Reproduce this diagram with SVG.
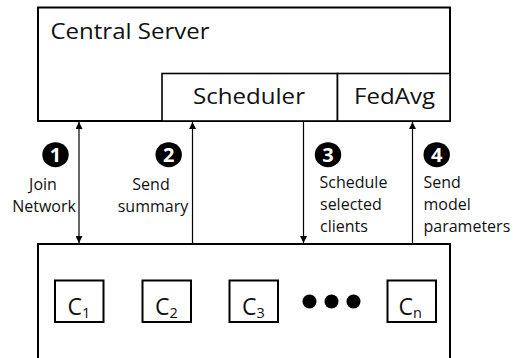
<svg xmlns="http://www.w3.org/2000/svg" width="516" height="358" viewBox="0 0 516 358">
<style>
  .box{fill:#fff;stroke:#000;stroke-width:2}
  .inner{fill:#fff;stroke:#000;stroke-width:1.6}
  .big{font-family:"Open Sans","Liberation Sans",sans-serif;font-size:22px;fill:#111}
  .lbl{font-family:"Open Sans","Liberation Sans",sans-serif;font-size:16px;fill:#111}
  .mid{text-anchor:middle}
  .cl{font-family:"Open Sans","Liberation Sans",sans-serif;font-size:23px;fill:#111}
  .sub{font-size:14.5px}
  .num{font-family:"Open Sans","DejaVu Sans",sans-serif;font-size:20px;font-weight:bold;fill:#fff;text-anchor:middle}
  .conn{stroke:#000;stroke-width:1.2;fill:none}
  .client{fill:#fff;stroke:#000;stroke-width:2}
</style>
<defs>
  <marker id="ah" viewBox="0 0 8 8" refX="8" refY="4" markerWidth="7" markerHeight="7" markerUnits="userSpaceOnUse" orient="auto-start-reverse">
    <path d="M0,0 L8,4 L0,8 Z" fill="#000"/>
  </marker>
</defs>

<g id="central-server">
  <rect class="box" x="38" y="7.5" width="412" height="113.5"/>
  <text class="big" x="50.5" y="39" textLength="159" lengthAdjust="spacingAndGlyphs">Central Server</text>
</g>
<g id="scheduler">
  <rect class="inner" x="162" y="73.5" width="175.5" height="47.5"/>
  <text class="big" x="193" y="104" textLength="112" lengthAdjust="spacingAndGlyphs">Scheduler</text>
</g>
<g id="fedavg">
  <rect class="inner" x="337.5" y="73.5" width="112.5" height="47.5"/>
  <text class="big" x="354" y="104" textLength="81" lengthAdjust="spacingAndGlyphs">FedAvg</text>
</g>

<g id="clients-pool">
  <rect class="box" x="38" y="244" width="412" height="130"/>
</g>
<g id="client-1">
  <rect class="client" x="55" y="280.5" width="48.5" height="41.5"/>
  <text class="cl" x="67.5" y="314.5">C<tspan class="sub" dy="3">1</tspan></text>
</g>
<g id="client-2">
  <rect class="client" x="142.5" y="280.5" width="48.5" height="41.5"/>
  <text class="cl" x="155" y="314.5">C<tspan class="sub" dy="3">2</tspan></text>
</g>
<g id="client-3">
  <rect class="client" x="229.5" y="280.5" width="48.5" height="41.5"/>
  <text class="cl" x="242" y="314.5">C<tspan class="sub" dy="3">3</tspan></text>
</g>
<g id="ellipsis">
  <circle cx="309.5" cy="301.5" r="7"/>
  <circle cx="331.5" cy="301.5" r="7"/>
  <circle cx="353.5" cy="301.5" r="7"/>
</g>
<g id="client-n">
  <rect class="client" x="387.5" y="280.5" width="48.5" height="41.5"/>
  <text class="cl" x="398.5" y="314.5">C<tspan class="sub" dy="3">n</tspan></text>
</g>

<g id="connectors">
  <line class="conn" x1="79" y1="122" x2="79" y2="243" marker-start="url(#ah)" marker-end="url(#ah)"/>
  <line class="conn" x1="192.5" y1="244" x2="192.5" y2="122" marker-end="url(#ah)"/>
  <line class="conn" x1="303.5" y1="122" x2="303.5" y2="243" marker-end="url(#ah)"/>
  <line class="conn" x1="412.5" y1="244" x2="412.5" y2="122" marker-end="url(#ah)"/>
</g>

<g id="step-1">
  <ellipse cx="55.5" cy="154.7" rx="13.2" ry="12.5"/>
  <text class="num" x="55.5" y="161.8">1</text>
  <text class="lbl mid" x="43" y="190">Join</text>
  <text class="lbl mid" x="44" y="211.5">Network</text>
</g>
<g id="step-2">
  <ellipse cx="168.7" cy="154.7" rx="13.2" ry="12.5"/>
  <text class="num" x="168.7" y="161.8">2</text>
  <text class="lbl mid" x="151" y="190">Send</text>
  <text class="lbl mid" x="153" y="211.5">summary</text>
</g>
<g id="step-3">
  <ellipse cx="328" cy="154.7" rx="13.2" ry="12.5"/>
  <text class="num" x="328" y="161.8">3</text>
  <text class="lbl" x="319.5" y="188">Schedule</text>
  <text class="lbl" x="320" y="210">selected</text>
  <text class="lbl" x="320" y="232">clients</text>
</g>
<g id="step-4">
  <ellipse cx="436.7" cy="154.7" rx="13.2" ry="12.5"/>
  <text class="num" x="436.7" y="161.8">4</text>
  <text class="lbl" x="423.5" y="188">Send</text>
  <text class="lbl" x="423.5" y="210">model</text>
  <text class="lbl" x="423.5" y="232">parameters</text>
</g>
</svg>
